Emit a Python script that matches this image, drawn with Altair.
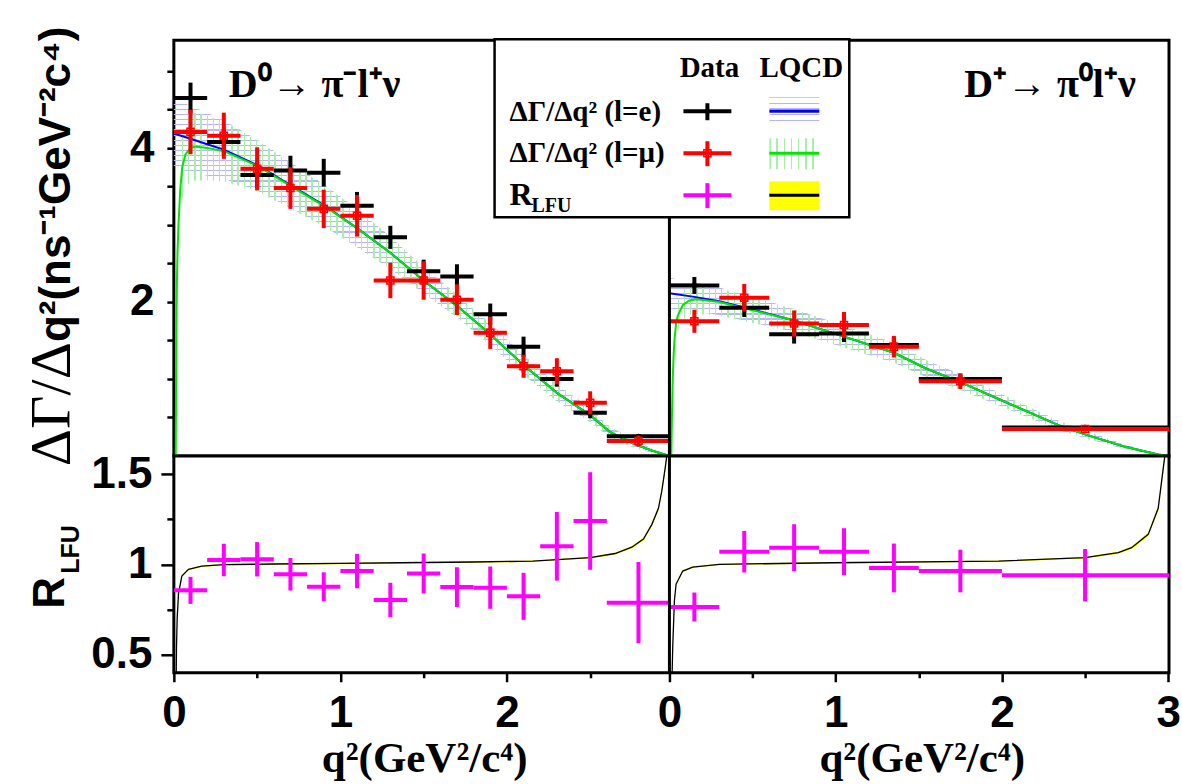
import altair as alt
import pandas as pd

# ------------------------------------------------------------------ kinematics
Q2MAX_D0 = 2.976   # (m_D0 - m_pi+)^2  [GeV^2/c^4]
Q2MAX_DP = 3.005   # (m_D+ - m_pi0)^2  [GeV^2/c^4]

# ------------------------------------------------------------------ D0 -> pi- l+ nu
d0_lo = [0.0, 0.2, 0.4, 0.6, 0.8, 1.0, 1.2, 1.4, 1.6, 1.8, 2.0, 2.2, 2.4, 2.6]
d0_hi = [0.2, 0.4, 0.6, 0.8, 1.0, 1.2, 1.4, 1.6, 1.8, 2.0, 2.2, 2.4, 2.6, Q2MAX_D0]
d0_mid = [0.1, 0.3, 0.5, 0.7, 0.9, 1.1, 1.3, 1.5, 1.7, 1.9, 2.1, 2.3, 2.5, 2.79]
d0_rate_e = [4.65, 4.08, 3.65, 3.71, 3.68, 3.25, 2.84, 2.40, 2.33, 1.84, 1.42, 1.00, 0.56, 0.255]
d0_rate_e_err = [0.20, 0.17, 0.17, 0.19, 0.18, 0.18, 0.15, 0.15, 0.16, 0.14, 0.13, 0.10, 0.07, 0.03]
d0_rate_mu = [4.21, 4.16, 3.73, 3.48, 3.21, 3.12, 2.28, 2.28, 2.03, 1.60, 1.165, 1.10, 0.69, 0.195]
d0_rate_mu_err = [0.29, 0.30, 0.28, 0.27, 0.25, 0.27, 0.23, 0.25, 0.20, 0.21, 0.15, 0.17, 0.15, 0.07]
d0_rlfu = [0.856, 1.024, 1.028, 0.945, 0.876, 0.963, 0.803, 0.95, 0.874, 0.871, 0.823, 1.10, 1.24, 0.788]
d0_rlfu_err = [0.075, 0.09, 0.095, 0.09, 0.08, 0.095, 0.095, 0.11, 0.11, 0.117, 0.13, 0.19, 0.27, 0.225]

# LQCD prediction, electron channel
d0_lq_e_q = [0.0, 0.1, 0.2, 0.3, 0.5, 0.7, 0.9, 1.1, 1.3, 1.5, 1.7, 1.9, 2.1, 2.3, 2.5, 2.62, 2.77, 2.87, Q2MAX_D0]
d0_lq_e = [4.19, 4.12, 4.05, 3.98, 3.78, 3.52, 3.26, 2.96, 2.64, 2.28, 1.95, 1.58, 1.18, 0.82, 0.53, 0.31, 0.15, 0.07, 0.0]
d0_lq_e_unc = [0.45, 0.43, 0.41, 0.38, 0.33, 0.30, 0.27, 0.25, 0.21, 0.17, 0.15, 0.14, 0.13, 0.11, 0.09, 0.07, 0.05, 0.03, 0.0]
# LQCD prediction, muon channel
d0_lq_mu_q = [0.0112, 0.013, 0.015, 0.018, 0.022, 0.028, 0.038, 0.05, 0.07, 0.1, 0.13, 0.2, 0.3, 0.5,
              0.7, 0.9, 1.1, 1.3, 1.5, 1.7, 1.9, 2.1, 2.3, 2.5, 2.62, 2.77, 2.87, Q2MAX_D0]
d0_lq_mu = [0.0, 0.9, 1.6, 2.2, 2.65, 3.0, 3.45, 3.75, 3.92, 4.0, 4.02, 4.0, 3.96, 3.77,
            3.51, 3.25, 2.96, 2.64, 2.28, 1.95, 1.58, 1.18, 0.82, 0.53, 0.31, 0.15, 0.07, 0.0]
d0_lq_mu_unc = [0.0, 0.1, 0.18, 0.25, 0.3, 0.34, 0.38, 0.41, 0.43, 0.44, 0.44, 0.42, 0.39, 0.33,
                0.30, 0.27, 0.25, 0.21, 0.17, 0.15, 0.14, 0.13, 0.11, 0.09, 0.07, 0.05, 0.03, 0.0]
# LQCD ratio
d0_lq_r_q = [0.0112, 0.013, 0.016, 0.02, 0.028, 0.048, 0.088, 0.167, 0.3, 0.6, 1.0, 1.36, 1.8,
             2.155, 2.5, 2.65, 2.75, 2.82, 2.87, 2.91, 2.93, 2.95, 2.96, 2.97]
d0_lq_r = [0.0, 0.3, 0.55, 0.7, 0.84, 0.935, 0.972, 0.99, 0.998, 1.002, 1.005, 1.009, 1.013,
           1.018, 1.037, 1.06, 1.095, 1.14, 1.22, 1.31, 1.405, 1.53, 1.6, 1.9]
d0_lq_r_unc = [0.0, 0.004, 0.004, 0.004, 0.004, 0.004, 0.004, 0.004, 0.004, 0.004, 0.004, 0.004, 0.004,
               0.004, 0.005, 0.006, 0.007, 0.008, 0.01, 0.012, 0.015, 0.02, 0.02, 0.02]

# ------------------------------------------------------------------ D+ -> pi0 l+ nu
dp_lo = [0.0, 0.3, 0.6, 0.9, 1.2, 1.5, 2.0]
dp_hi = [0.3, 0.6, 0.9, 1.2, 1.5, 2.0, Q2MAX_DP]
dp_mid = [0.15, 0.45, 0.75, 1.05, 1.35, 1.75, 2.5]
dp_rate_e = [2.215, 1.925, 1.58, 1.59, 1.44, 1.00, 0.37]
dp_rate_e_err = [0.11, 0.12, 0.12, 0.11, 0.10, 0.07, 0.03]
dp_rate_mu = [1.75, 2.055, 1.72, 1.70, 1.42, 0.97, 0.35]
dp_rate_mu_err = [0.15, 0.18, 0.17, 0.17, 0.14, 0.10, 0.03]
dp_rlfu = [0.764, 1.07, 1.092, 1.07, 0.98, 0.963, 0.94]
dp_rlfu_err = [0.08, 0.115, 0.13, 0.13, 0.135, 0.118, 0.145]

dp_lq_e_q = [0.0, 0.14, 0.3, 0.45, 0.75, 1.05, 1.35, 1.55, 1.75, 2.0, 2.34, 2.5, 2.74, 2.94, Q2MAX_DP]
dp_lq_e = [2.115, 2.07, 2.01, 1.93, 1.76, 1.55, 1.34, 1.13, 0.96, 0.72, 0.40, 0.28, 0.12, 0.02, 0.0]
dp_lq_e_unc = [0.2, 0.19, 0.18, 0.17, 0.15, 0.14, 0.13, 0.11, 0.10, 0.08, 0.06, 0.05, 0.03, 0.01, 0.0]
dp_lq_mu_q = [0.0112, 0.015, 0.02, 0.025, 0.03, 0.04, 0.05, 0.08, 0.12, 0.16, 0.3, 0.45, 0.75, 1.05,
              1.35, 1.55, 1.75, 2.0, 2.34, 2.5, 2.74, 2.94, Q2MAX_DP]
dp_lq_mu = [0.0, 0.5, 1.0, 1.3, 1.5, 1.72, 1.82, 1.96, 2.02, 2.035, 2.0, 1.92, 1.76, 1.55,
            1.34, 1.13, 0.96, 0.72, 0.40, 0.28, 0.12, 0.02, 0.0]
dp_lq_mu_unc = [0.0, 0.05, 0.1, 0.13, 0.15, 0.17, 0.18, 0.19, 0.19, 0.19, 0.18, 0.17, 0.15, 0.14,
                0.13, 0.11, 0.10, 0.08, 0.06, 0.05, 0.03, 0.01, 0.0]
dp_lq_r_q = [0.0112, 0.015, 0.02, 0.03, 0.04, 0.08, 0.14, 0.3, 0.98, 1.98, 2.5, 2.7, 2.78, 2.88, 2.94,
             2.97, 2.98, 2.99]
dp_lq_r = [0.0, 0.35, 0.55, 0.8, 0.89, 0.963, 0.985, 1.0, 1.009, 1.018, 1.037, 1.065, 1.092, 1.166, 1.31,
           1.53, 1.6, 1.9]
dp_lq_r_unc = [0.0, 0.004, 0.004, 0.004, 0.004, 0.004, 0.004, 0.004, 0.004, 0.004, 0.005, 0.006, 0.008,
               0.01, 0.015, 0.02, 0.02, 0.02]

# ------------------------------------------------------------------ layout / style
W_LEFT, W_ALL = 496, 996
H_TOP, H_BOT = 416, 217
SERIF, SANS = "Liberation Serif", "Liberation Sans"
BLUE, GREEN, RED, MAGENTA = "#0000ff", "#00e600", "#ff0000", "#ff00ff"
BLUE_HATCH, GREEN_HATCH = "#b6b6f6", "#a8eea8"

XL = alt.Scale(domain=[0, Q2MAX_D0], range=[0, W_LEFT], nice=False, zero=False)
XR = alt.Scale(domain=[0, Q2MAX_DP], range=[W_LEFT, W_ALL], nice=False, zero=False)
YT = alt.Scale(domain=[0, 5.4], nice=False, zero=False)
YB = alt.Scale(domain=[0.4, 1.6], nice=False, zero=False)

AXIS_STYLE = dict(labelFont=SANS, labelFontSize=44, labelFontWeight="bold", labelColor="black",
                  domain=False, grid=False, tickColor="black", tickWidth=2.5, title=None,
                  labelOverlap=False, labelFlush=False)

ax_top_y = alt.Axis(values=[0.5, 1, 1.5, 2, 2.5, 3, 3.5, 4, 4.5, 5], orient="left",
                    labelExpr="datum.value == 2 || datum.value == 4 ? format(datum.value, 'd') : ''",
                    tickSize=7, labelPadding=13, **AXIS_STYLE)
ax_bot_y = alt.Axis(values=[0.5, 0.75, 1, 1.25, 1.5], orient="left",
                    labelExpr="datum.value % 0.5 == 0 ? format(datum.value, '~g') : ''",
                    tickSize={"condition": {"test": "datum.value % 0.5 == 0", "value": 13}, "value": 7},
                    labelPadding=9, **AXIS_STYLE)


def x_axis(values):
    return alt.Axis(values=values, orient="bottom",
                    labelExpr="datum.value % 1 == 0 ? format(datum.value, 'd') : ''",
                    tickSize={"condition": {"test": "datum.value % 1 == 0", "value": 9}, "value": 5},
                    labelPadding=10, **AXIS_STYLE)


ax_xl = x_axis([0, 0.5, 1, 1.5, 2, 2.5])
ax_xr = x_axis([0, 0.5, 1, 1.5, 2, 2.5, 3])

one = alt.Data(values=[{"k": 0}])


def hatch(color, n, along_y, frac=0.22):
    """Striped fill: thin lines of `color` repeated n times across the mark box."""
    clear = "rgba(255,255,255,0)"
    stops = []
    for i in range(n):
        a, b, c = i / n, (i + frac) / n, (i + 1) / n
        stops += [alt.GradientStop(color=color, offset=a), alt.GradientStop(color=color, offset=b),
                  alt.GradientStop(color=clear, offset=b), alt.GradientStop(color=clear, offset=c)]
    if along_y:
        return alt.LinearGradient(gradient="linear", stops=stops, x1=0, y1=0, x2=0, y2=1)
    return alt.LinearGradient(gradient="linear", stops=stops, x1=0, y1=0, x2=1, y2=0)


# every layer that shares a scale gets the very same axis definition
def band(q, v, unc, xs, ys, xa, ya, fill, clip=False):
    df = pd.DataFrame({"q": q, "v": v, "u": unc})
    return (alt.Chart(df)
            .transform_calculate(lo="datum.v - datum.u", hi="datum.v + datum.u")
            .mark_area(fill=fill, opacity=1, clip=clip)
            .encode(x=alt.X("q:Q", scale=xs, axis=xa),
                    y=alt.Y("lo:Q", scale=ys, axis=ya), y2="hi:Q"))


def curve(q, v, xs, ys, xa, ya, color, width, clip=False):
    df = pd.DataFrame({"q": q, "v": v})
    return (alt.Chart(df).mark_line(color=color, strokeWidth=width, clip=clip)
            .encode(x=alt.X("q:Q", scale=xs, axis=xa), y=alt.Y("v:Q", scale=ys, axis=ya)))


def crosses(lo, hi, mid, v, e, xs, ys, xa, ya, color, marker):
    df = pd.DataFrame({"lo": lo, "hi": hi, "mid": mid, "v": v, "e": e})
    base = alt.Chart(df).transform_calculate(vlo="datum.v - datum.e", vhi="datum.v + datum.e")
    hbar = base.mark_rule(color=color, strokeWidth=4).encode(
        x=alt.X("lo:Q", scale=xs, axis=xa), x2="hi:Q",
        y=alt.Y("v:Q", scale=ys, axis=ya))
    vbar = base.mark_rule(color=color, strokeWidth=4).encode(
        x=alt.X("mid:Q", scale=xs, axis=xa),
        y=alt.Y("vlo:Q", scale=ys, axis=ya), y2="vhi:Q")
    dot = base.mark_point(**marker).encode(
        x=alt.X("mid:Q", scale=xs, axis=xa), y=alt.Y("v:Q", scale=ys, axis=ya))
    return [hbar, vbar, dot]


def divider(xs, xa):
    return alt.Chart(one).mark_rule(color="black", strokeWidth=3).encode(
        x=alt.XDatum(0, type="quantitative", scale=xs, axis=xa))


def ptext(txt, x, y, size, font=SERIF, weight="bold", align="left", angle=0):
    return alt.Chart(one).mark_text(font=font, fontSize=size, fontWeight=weight, align=align,
                                    baseline="alphabetic", angle=angle, color="black").encode(
        x=alt.value(x), y=alt.value(y), text=alt.value(txt))


def prule(x, x2, y, y2, color, width):
    return alt.Chart(one).mark_rule(color=color, strokeWidth=width).encode(
        x=alt.value(x), x2=alt.value(x2), y=alt.value(y), y2=alt.value(y2))


def prect(x, x2, y, y2, fill, stroke=None, width=0):
    kw = dict(fill=fill, opacity=1)
    if stroke:
        kw.update(stroke=stroke, strokeWidth=width)
    return alt.Chart(one).mark_rect(**kw).encode(
        x=alt.value(x), x2=alt.value(x2), y=alt.value(y), y2=alt.value(y2))


def ppoint(x, y, marker):
    return alt.Chart(one).mark_point(**marker).encode(x=alt.value(x), y=alt.value(y))


DOT_E = dict(shape="circle", filled=True, size=28, color="black", opacity=1)
SQ_MU = dict(shape="square", filled=False, size=50, strokeWidth=1.5, color=RED, opacity=1)
DOT_R = dict(shape="circle", filled=True, size=16, color=MAGENTA, opacity=1)

# ------------------------------------------------------------------ upper row: dGamma/dq2
YA = ax_top_y
top_left = alt.layer(
    band(d0_lq_e_q, d0_lq_e, d0_lq_e_unc, XL, YT, None, YA, hatch(BLUE_HATCH, 70, True)),
    band(d0_lq_mu_q, d0_lq_mu, d0_lq_mu_unc, XL, YT, None, YA, hatch(GREEN_HATCH, 80, False)),
    curve(d0_lq_e_q, d0_lq_e, XL, YT, None, YA, BLUE, 2),
    curve(d0_lq_mu_q, d0_lq_mu, XL, YT, None, YA, GREEN, 2),
    *crosses(d0_lo, d0_hi, d0_mid, d0_rate_e, d0_rate_e_err, XL, YT, None, YA, "black", DOT_E),
    *crosses(d0_lo, d0_hi, d0_mid, d0_rate_mu, d0_rate_mu_err, XL, YT, None, YA, RED, SQ_MU),
)
top_right = alt.layer(
    band(dp_lq_e_q, dp_lq_e, dp_lq_e_unc, XR, YT, None, YA, hatch(BLUE_HATCH, 35, True)),
    band(dp_lq_mu_q, dp_lq_mu, dp_lq_mu_unc, XR, YT, None, YA, hatch(GREEN_HATCH, 80, False)),
    curve(dp_lq_e_q, dp_lq_e, XR, YT, None, YA, BLUE, 2),
    curve(dp_lq_mu_q, dp_lq_mu, XR, YT, None, YA, GREEN, 2),
    *crosses(dp_lo, dp_hi, dp_mid, dp_rate_e, dp_rate_e_err, XR, YT, None, YA, "black", DOT_E),
    *crosses(dp_lo, dp_hi, dp_mid, dp_rate_mu, dp_rate_mu_err, XR, YT, None, YA, RED, SQ_MU),
    divider(XR, None),
)

legend = [
    prect(321, 676, -1, 177, "white", "black", 2.5),
    ptext("Data", 536, 37, 29, align="center"),
    ptext("LQCD", 628, 37, 29, align="center"),
    ptext("ΔΓ/Δq² (l=e)", 336, 81, 29),
    ptext("ΔΓ/Δq² (l=μ)", 336, 122, 29),
    ptext("R", 336, 165, 32),
    ptext("LFU", 358, 172, 20),
    # data markers
    prule(510, 558, 71, 71, "black", 4), prule(534, 534, 63, 80, "black", 4), ppoint(534, 71, DOT_E),
    prule(510, 558, 113, 113, RED, 4), prule(534, 534, 101, 126, RED, 4), ppoint(534, 113, SQ_MU),
    prule(510, 558, 155, 155, MAGENTA, 4), prule(534, 534, 143, 168, MAGENTA, 4), ppoint(534, 155, DOT_R),
    # prediction swatches
    prect(596, 646, 57, 85, hatch(BLUE_HATCH, 5, True)), prule(596, 646, 71, 71, BLUE, 3),
    prect(596, 646, 98, 129, hatch(GREEN_HATCH, 7, False)), prule(596, 646, 113, 113, GREEN, 3),
    prect(596, 646, 141, 170, "#ffff00"), prule(596, 646, 155, 155, "black", 3),
]

FRAME = alt.ViewBackground(stroke="black", strokeWidth=3, fill="white")

top = alt.layer(
    top_left, top_right, *legend,
    ptext("D⁰→ π⁻l⁺ν", 55, 57, 40),
    ptext("D⁺→ π⁰l⁺ν", 791, 57, 40),
    ptext("ΔΓ/Δ", -104, 302, 58, weight="normal", align="right", angle=270),
    ptext("q²(ns⁻¹GeV⁻²c⁴)", -104, 302, 44, font=SANS, align="left", angle=270),
    prule(-172, -170, -38, -37, "white", 1),
).resolve_scale(x="independent").properties(width=W_ALL, height=H_TOP, view=FRAME)

# ------------------------------------------------------------------ lower row: R_LFU
YELLOW = "#ffff00"
YA2 = ax_bot_y
bot_left = alt.layer(
    band(d0_lq_r_q, d0_lq_r, d0_lq_r_unc, XL, YB, ax_xl, YA2, YELLOW, clip=True),
    curve(d0_lq_r_q, d0_lq_r, XL, YB, ax_xl, YA2, "black", 1.3, clip=True),
    *crosses(d0_lo, d0_hi, d0_mid, d0_rlfu, d0_rlfu_err, XL, YB, ax_xl, YA2, MAGENTA, DOT_R),
)
bot_right = alt.layer(
    band(dp_lq_r_q, dp_lq_r, dp_lq_r_unc, XR, YB, ax_xr, YA2, YELLOW, clip=True),
    curve(dp_lq_r_q, dp_lq_r, XR, YB, ax_xr, YA2, "black", 1.3, clip=True),
    *crosses(dp_lo, dp_hi, dp_mid, dp_rlfu, dp_rlfu_err, XR, YB, ax_xr, YA2, MAGENTA, DOT_R),
    divider(XR, ax_xr),
)

Q2_TITLE = "q²(GeV²/c⁴)"

bottom = alt.layer(
    bot_left, bot_right,
    ptext(Q2_TITLE, 251, 316, 43, align="center"),
    ptext(Q2_TITLE, W_LEFT + 253, 316, 43, align="center"),
    ptext("R", -110, 153, 44, font=SANS, angle=270),
    ptext("LFU", -95, 118, 25, font=SANS, angle=270),
).resolve_scale(x="independent").properties(width=W_ALL, height=H_BOT, view=FRAME)

chart = (alt.vconcat(top, bottom, spacing=0, bounds="flush")
         .properties(padding={"left": 0, "top": 0, "right": 0, "bottom": 0})
         .configure_view(stroke="black", strokeWidth=3))

chart.save("out.html", embed_options={"renderer": "svg", "actions": False})
